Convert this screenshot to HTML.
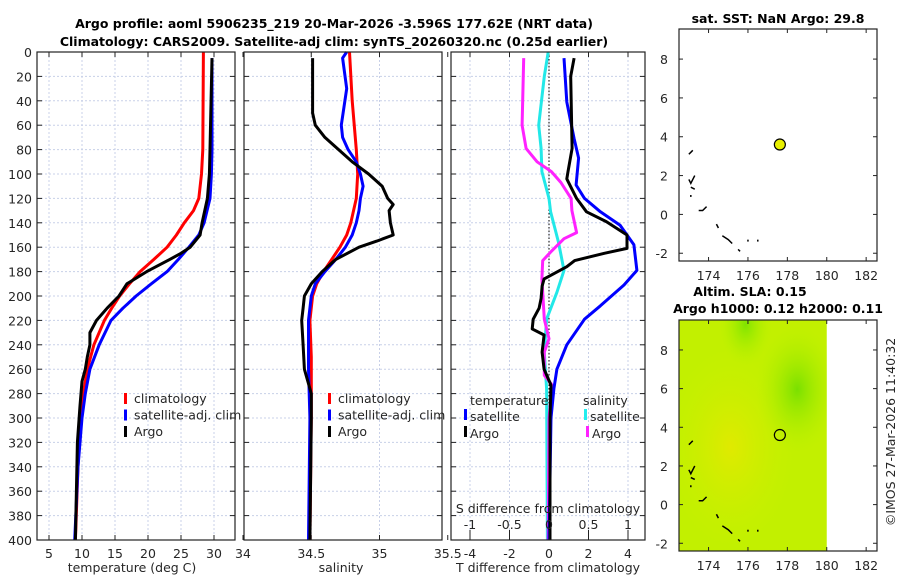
<!DOCTYPE html>
<html><head><meta charset="utf-8"><style>
body{margin:0;background:#fff}
svg{display:block;font-family:"DejaVu Sans","Liberation Sans",sans-serif}
.t{font-size:12.5px;fill:#262626}
.b{font-weight:bold;font-size:12.5px;fill:#000}
</style></head><body>
<svg id="fig" width="900" height="580" viewBox="0 0 900 580">
<text class="b" x="334" y="28" text-anchor="middle">Argo profile: aoml 5906235_219 20-Mar-2026 -3.596S 177.62E (NRT data)</text>
<text class="b" x="334" y="46" text-anchor="middle">Climatology: CARS2009. Satellite-adj clim: synTS_20260320.nc (0.25d earlier)</text>
<g id="g"></g>
</svg>
<script>
const depthTicks=[0,20,40,60,80,100,120,140,160,180,200,220,240,260,280,300,320,340,360,380,400];
const tTicks=[5,10,15,20,25,30];
const sTicks=[34,34.5,35,35.5];
const dTTicks=[-4,-2,0,2,4];
const dSTicks=[-1,-0.5,0,0.5,1];
const lonTicks=[174,176,178,180,182];
const latTicks=[-2,0,2,4,6,8];
// Temperature profiles [depth, value]
const tClim=[[0,28.4],[80,28.3],[100,28.1],[120,27.7],[130,26.9],[140,25.5],[150,24.3],[160,22.9],[170,20.9],[180,18.8],[190,17.2],[200,15.7],[210,14.5],[220,13.4],[240,11.8],[260,10.8],[280,10.2],[300,9.8],[340,9.4],[400,9.0]];
const tSat=[[5,29.7],[80,29.7],[100,29.6],[120,29.4],[140,28.5],[150,27.7],[160,26.2],[170,24.6],[180,22.9],[190,20.5],[200,18.2],[210,16.2],[220,14.4],[240,12.6],[260,11.2],[280,10.5],[300,10],[340,9.4],[400,8.9]];
const tArgo=[[5,29.7],[80,29.4],[100,29.3],[120,29],[140,28.2],[150,27.9],[160,26.4],[165,25],[170,23.3],[180,19.8],[190,16.8],[200,15.6],[210,13.8],[220,12.2],[230,11.2],[240,11.2],[250,10.8],[260,10.5],[270,10],[290,9.7],[320,9.3],[400,9.0]];
// Salinity profiles
const sClim=[[0,34.78],[40,34.8],[80,34.83],[100,34.84],[120,34.83],[140,34.79],[150,34.76],[160,34.71],[170,34.65],[180,34.59],[190,34.54],[200,34.51],[220,34.49],[250,34.5],[300,34.5],[400,34.49]];
const sSat=[[0,34.76],[5,34.73],[30,34.76],[60,34.72],[70,34.73],[80,34.77],[90,34.83],[100,34.86],[110,34.88],[120,34.86],[130,34.85],[140,34.83],[150,34.8],[160,34.75],[170,34.68],[180,34.6],[190,34.53],[200,34.5],[220,34.48],[260,34.48],[300,34.49],[400,34.48]];
const sArgo=[[5,34.51],[50,34.51],[60,34.53],[70,34.6],[80,34.7],[90,34.8],[100,34.92],[110,35.02],[120,35.06],[125,35.1],[130,35.07],[140,35.08],[150,35.1],[155,34.98],[160,34.85],[170,34.68],[180,34.58],[190,34.5],[200,34.45],[210,34.44],[220,34.43],[240,34.44],[260,34.45],[280,34.5],[300,34.5],[400,34.49]];
// Differences from climatology
const dTArgo=[[5,1.27],[20,1.1],[79,1.17],[98,0.96],[104,0.9],[120,1.4],[131,1.9],[139,2.9],[150,3.95],[161,3.95],[165,2.8],[171,1.3],[176,0.9],[186,-0.25],[192,-0.35],[202,-0.4],[210,-0.5],[219,-0.8],[227,-0.85],[232,-0.25],[246,-0.35],[260,-0.25],[273,0.1],[300,0.05],[400,0.05]];
const dTSat=[[5,0.76],[41,0.9],[71,1.27],[87,1.5],[109,1.37],[120,1.8],[131,2.6],[142,3.6],[158,4.3],[179,4.45],[191,3.8],[208,2.6],[219,1.8],[240,0.9],[260,0.4],[276,0.25],[300,0.1],[400,0]];
const dSArgo=[[5,-0.32],[60,-0.34],[79,-0.29],[90,-0.15],[98,0.03],[107,0.15],[120,0.28],[130,0.29],[148,0.35],[153,0.19],[164,0.02],[171,-0.08],[186,-0.09],[219,-0.06],[235,0],[246,-0.06],[265,-0.06],[273,0.04],[300,0],[400,-0.01]];
const dSSat=[[0,-0.01],[20,-0.06],[60,-0.13],[79,-0.1],[98,-0.09],[120,0],[131,0.02],[156,0.12],[179,0.19],[197,0.1],[219,-0.03],[246,-0.06],[276,-0.03],[400,-0.02]];
// Argo float location
const floatLon=[177.62];
const floatLat=[3.6];
const coast=[[[173.0,3.1],[173.1,3.2],[173.2,3.3]],[[173.0,1.8],[173.1,1.6],[173.2,1.8],[173.3,2.0]],[[173.1,1.4],[173.3,1.3]],[[173.1,0.9],[173.1,1.0]],[[173.5,0.2],[173.7,0.2],[173.9,0.4]],[[174.4,-0.5],[174.5,-0.7]],[[174.7,-1.1],[175.0,-1.3],[175.2,-1.5]],[[175.5,-1.8],[175.6,-1.9]],[[176.0,-1.3],[176.0,-1.4]],[[176.5,-1.3],[176.5,-1.4]]];

const NS="http://www.w3.org/2000/svg";
const G=document.getElementById('g');
function el(tag,attrs,parent,text){const e=document.createElementNS(NS,tag);for(const k in attrs)e.setAttribute(k,attrs[k]);if(text!==undefined)e.textContent=text;(parent||G).appendChild(e);return e;}
const yTop=52,yBot=540;
const yD=d=>yTop+d*(yBot-yTop)/400;

function panel(name,x0,x1,xfun,xticks,showY){
  const g=el('g',{});
  
  
  el('rect',{x:x0,y:yTop,width:x1-x0,height:yBot-yTop,fill:'#fff'},g);
  depthTicks.forEach(d=>{
    el('line',{x1:x0,x2:x1,y1:yD(d),y2:yD(d),stroke:'#c8d0e8','stroke-dasharray':'2,2','stroke-width':1},g);
    el('line',{x1:x0,x2:x0+5,y1:yD(d),y2:yD(d),stroke:'#222'},g);
    el('line',{x1:x1-5,x2:x1,y1:yD(d),y2:yD(d),stroke:'#222'},g);
    if(showY){const t=el('text',{x:x0-5,y:yD(d)+5,'text-anchor':'end',class:'t'},g,String(d));
      
      }
  });
  xticks.forEach(v=>{const x=xfun(v);
    if(x>x0+1&&x<x1-1)el('line',{x1:x,x2:x,y1:yTop,y2:yBot,stroke:'#c8d0e8','stroke-dasharray':'2,2'},g);
    el('line',{x1:x,x2:x,y1:yBot,y2:yBot-5,stroke:'#222'},g);
    el('line',{x1:x,x2:x,y1:yTop,y2:yTop+5,stroke:'#222'},g);
    const t=el('text',{x:x,y:yBot+18,'text-anchor':'middle',class:'t'},g,String(v));
    
    
  });
  return g;
}
function line(g,data,xfun,color,name,w){
  const p=el('polyline',{points:data.map(([d,v])=>xfun(v).toFixed(1)+','+yD(d).toFixed(1)).join(' '),fill:'none',stroke:color,'stroke-width':w||3,'stroke-linejoin':'round'},g);
  
  
}
function frame(g,x0,x1){el('rect',{x:x0,y:yTop,width:x1-x0,height:yBot-yTop,fill:'none',stroke:'#222','stroke-width':1.2},g);}
function legend(g,x,items){
  items.forEach((it,i)=>{const y=401+i*16.5;
    const m=el('rect',{x:x-10,y:y-8,width:3,height:11,fill:it[1]},g);
    
    
    const t=el('text',{x:x,y:y+2,class:'t'},g,it[0]);
    
    
  });
}

// Panel 1: temperature
const xT=v=>49+(v-5)*6.6;
const p1=panel('temperature-panel',37,235,xT,tTicks,true);
line(p1,tClim,xT,'#ff0000','temperature-climatology-line');
line(p1,tSat,xT,'#0000ff','temperature-satellite-line');
line(p1,tArgo,xT,'#000','temperature-argo-line');
legend(p1,134,[['climatology','#f00'],['satellite-adj. clim','#00f'],['Argo','#000']]);
frame(p1,37,235);
const xl1=el('text',{x:132,y:572,'text-anchor':'middle',class:'t'},p1,'temperature (deg C)');



// Panel 2: salinity
const xS=v=>243+(v-34)*136.5;
const p2=panel('salinity-panel',244,442,xS,sTicks,false);
line(p2,sClim,xS,'#ff0000','salinity-climatology-line');
line(p2,sSat,xS,'#0000ff','salinity-satellite-line');
line(p2,sArgo,xS,'#000','salinity-argo-line');
legend(p2,338,[['climatology','#f00'],['satellite-adj. clim','#00f'],['Argo','#000']]);
frame(p2,244,442);
const xl2=el('text',{x:341,y:572,'text-anchor':'middle',class:'t'},p2,'salinity');



// Panel 3: differences
const xDT=v=>549+v*19.75;
const xDS=v=>549+v*79;
const p3=panel('difference-panel',451,645,xDT,dTTicks,false);
el('line',{x1:549,x2:549,y1:yTop,y2:yBot,stroke:'#000','stroke-dasharray':'1.5,2'},p3);
line(p3,dSSat,xDS,'#22e8e8','salinity-diff-satellite-line');
line(p3,dSArgo,xDS,'#ff22ff','salinity-diff-argo-line');
line(p3,dTSat,xDT,'#0000ff','temperature-diff-satellite-line');
line(p3,dTArgo,xDT,'#000','temperature-diff-argo-line');
dSTicks.forEach(v=>{const x=xDS(v);el('line',{x1:x,x2:x,y1:yBot,y2:yBot-10,stroke:'#222'},p3);
  const t=el('text',{x:x,y:yBot-11,'text-anchor':'middle',class:'t'},p3,String(v));
  
  });
const sl=el('text',{x:548,y:513,'text-anchor':'middle',class:'t'},p3,'S difference from climatology');


const tlh=el('text',{x:470,y:405,class:'t'},p3,'temperature');


const slh=el('text',{x:583,y:405,class:'t'},p3,'salinity');


[['satellite','#00f',470,421],['Argo','#000',470,438],['satellite','#2ee',590,421],['Argo','#f2f',592,438]].forEach(it=>{
  const m=el('rect',{x:it[2]-6,y:it[3]-12,width:3,height:11,fill:it[1]},p3);
  
  
  const t=el('text',{x:it[2],y:it[3],class:'t'},p3,it[0]);
  
  
});
frame(p3,451,645);
const xl3=el('text',{x:548,y:572,'text-anchor':'middle',class:'t'},p3,'T difference from climatology');



// Maps
function map(name,top,bot,filled){
  const x0=679,x1=877,lonL=172.5,pxLon=19.7,lat0=9.55;
  const pxLat=(bot-top)/(lat0+2.4);
  const xL=v=>x0+(v-lonL)*pxLon, yL=v=>top+(lat0-v)*pxLat;
  const g=el('g',{});
  
  
  if(filled){
    const gr=el('defs',{},g);
    const rg=el('radialGradient',{id:'gr1',cx:'0.8',cy:'0.3',r:'0.28'},gr);
    el('stop',{offset:'0','stop-color':'#7ae000'},rg);el('stop',{offset:'1','stop-color':'#b8f000','stop-opacity':'0'},rg);
    const rg3=el('radialGradient',{id:'gr3',cx:'0.45',cy:'0.02',r:'0.18'},gr);
    el('stop',{offset:'0','stop-color':'#80e400'},rg3);el('stop',{offset:'1','stop-color':'#b8f000','stop-opacity':'0'},rg3);
    const rg2=el('radialGradient',{id:'gr2',cx:'0.35',cy:'0.55',r:'0.45'},gr);
    el('stop',{offset:'0','stop-color':'#e0ea00'},rg2);el('stop',{offset:'1','stop-color':'#c8f000','stop-opacity':'0'},rg2);
    const f=el('rect',{x:x0,y:top,width:xL(180)-x0,height:bot-top,fill:'#c2f000'},g);
    
    
    el('rect',{x:x0,y:top,width:xL(180)-x0,height:bot-top,fill:'url(#gr2)'},g);
    el('rect',{x:x0,y:top,width:xL(180)-x0,height:bot-top,fill:'url(#gr1)'},g);
    el('rect',{x:x0,y:top,width:xL(180)-x0,height:bot-top,fill:'url(#gr3)'},g);
  }
  coast.forEach(seg=>{const c=el('polyline',{points:seg.map(p=>xL(p[0])+','+yL(p[1])).join(' '),fill:'none',stroke:'#000','stroke-width':1.5},g);
    
    });
  lonTicks.forEach(v=>{const x=xL(v);el('line',{x1:x,x2:x,y1:bot,y2:bot-4,stroke:'#222'},g);el('line',{x1:x,x2:x,y1:top,y2:top+4,stroke:'#222'},g);
    const t=el('text',{x:x,y:bot+19,'text-anchor':'middle',class:'t'},g,String(v));
    
    });
  latTicks.forEach(v=>{const y=yL(v);el('line',{x1:x0,x2:x0+4,y1:y,y2:y,stroke:'#222'},g);el('line',{x1:x1-4,x2:x1,y1:y,y2:y,stroke:'#222'},g);
    const t=el('text',{x:x0-11,y:y+5,'text-anchor':'end',class:'t'},g,String(v));
    
    });
  const m=el('circle',{cx:xL(floatLon[0]),cy:yL(floatLat[0]),r:5.5,fill:filled?'none':'#e8f000',stroke:'#000','stroke-width':1.2},g);
  
  
  el('rect',{x:x0,y:top,width:x1-x0,height:bot-top,fill:'none',stroke:'#222','stroke-width':1.2},g);
  return g;
}
const m1=map('sst-map',29,261,false);
const mt1=el('text',{x:778,y:23,'text-anchor':'middle',class:'b'},m1,'sat. SST: NaN Argo: 29.8');


const m2=map('sla-map',320,551,true);
const mt2=el('text',{x:750,y:296,'text-anchor':'middle',class:'b'},m2,'Altim. SLA: 0.15');


const mt3=el('text',{x:778,y:313,'text-anchor':'middle',class:'b'},m2,'Argo h1000: 0.12 h2000: 0.11');


const cp=el('text',{x:0,y:0,transform:'translate(895,432) rotate(-90)','text-anchor':'middle',class:'t'},G,'©IMOS 27-Mar-2026 11:40:32');


</script>
</body></html>
